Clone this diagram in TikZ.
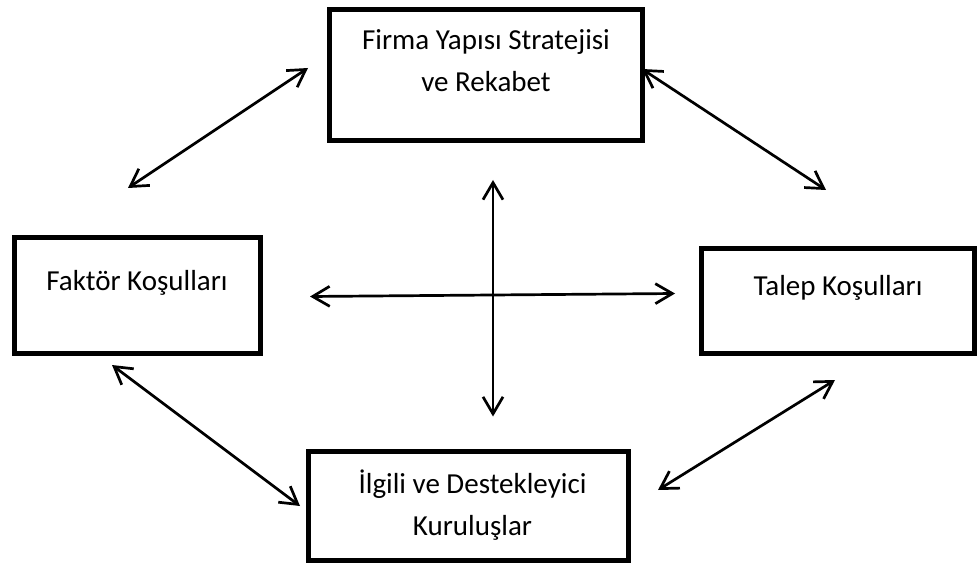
\documentclass[tikz,border=0pt]{standalone}
\usepackage{fontspec}
\setmainfont{Carlito}
\usetikzlibrary{arrows.meta}
\begin{document}
\begin{tikzpicture}[x=1pt,y=-1pt,
  box/.style={draw, line width=5pt, rectangle, inner sep=0pt},
  lbl/.style={inner sep=0pt, align=center, anchor=base,
    font=\fontsize{29}{42}\selectfont},
  link/.style={line width=2.7pt, {Straight Barb[length=17pt,width=20pt]}-{Straight Barb[length=17pt,width=20pt]}}]
\useasboundingbox (0,0) rectangle (977,564);

% the four boxes
\node[box, minimum width=313pt, minimum height=131pt] (firma) at (486,75) {};
\node[box, minimum width=246pt, minimum height=116pt] (faktor) at (137.5,295.5) {};
\node[box, minimum width=273pt, minimum height=105pt] (talep) at (838,301) {};
\node[box, minimum width=320pt, minimum height=108.5pt] (ilgili) at (468.5,505.75) {};

% box texts (base anchor sits on the last line)
\node[lbl] (firmaT) at (486,92) {Firma Yapısı Stratejisi\\ve Rekabet};
\node[lbl] (faktorT) at (137,290) {Faktör Koşulları};
\node[lbl] (talepT) at (838,295) {Talep Koşulları};
\node[lbl] (ilgiliT) at (472.5,535) {İlgili ve Destekleyici\\Kuruluşlar};

% connector end points
\coordinate (tlA) at (128,188);  \coordinate (tlB) at (308,68);
\coordinate (trA) at (642,69);   \coordinate (trB) at (826,190);
\coordinate (blA) at (112,365);  \coordinate (blB) at (300,506);
\coordinate (brA) at (835,380);  \coordinate (brB) at (658,490);
\coordinate (hA) at (310,296.5); \coordinate (hB) at (675,293.5);
\coordinate (vA) at (493,180);   \coordinate (vB) at (493,416.5);

% connectors
\draw[link] (tlA) -- (tlB);
\draw[link] (trA) -- (trB);
\draw[link] (blA) -- (blB);
\draw[link] (brA) -- (brB);
\draw[link] (hA) -- (hB);
\draw[link] (vA) -- (vB);
\end{tikzpicture}
\end{document}
